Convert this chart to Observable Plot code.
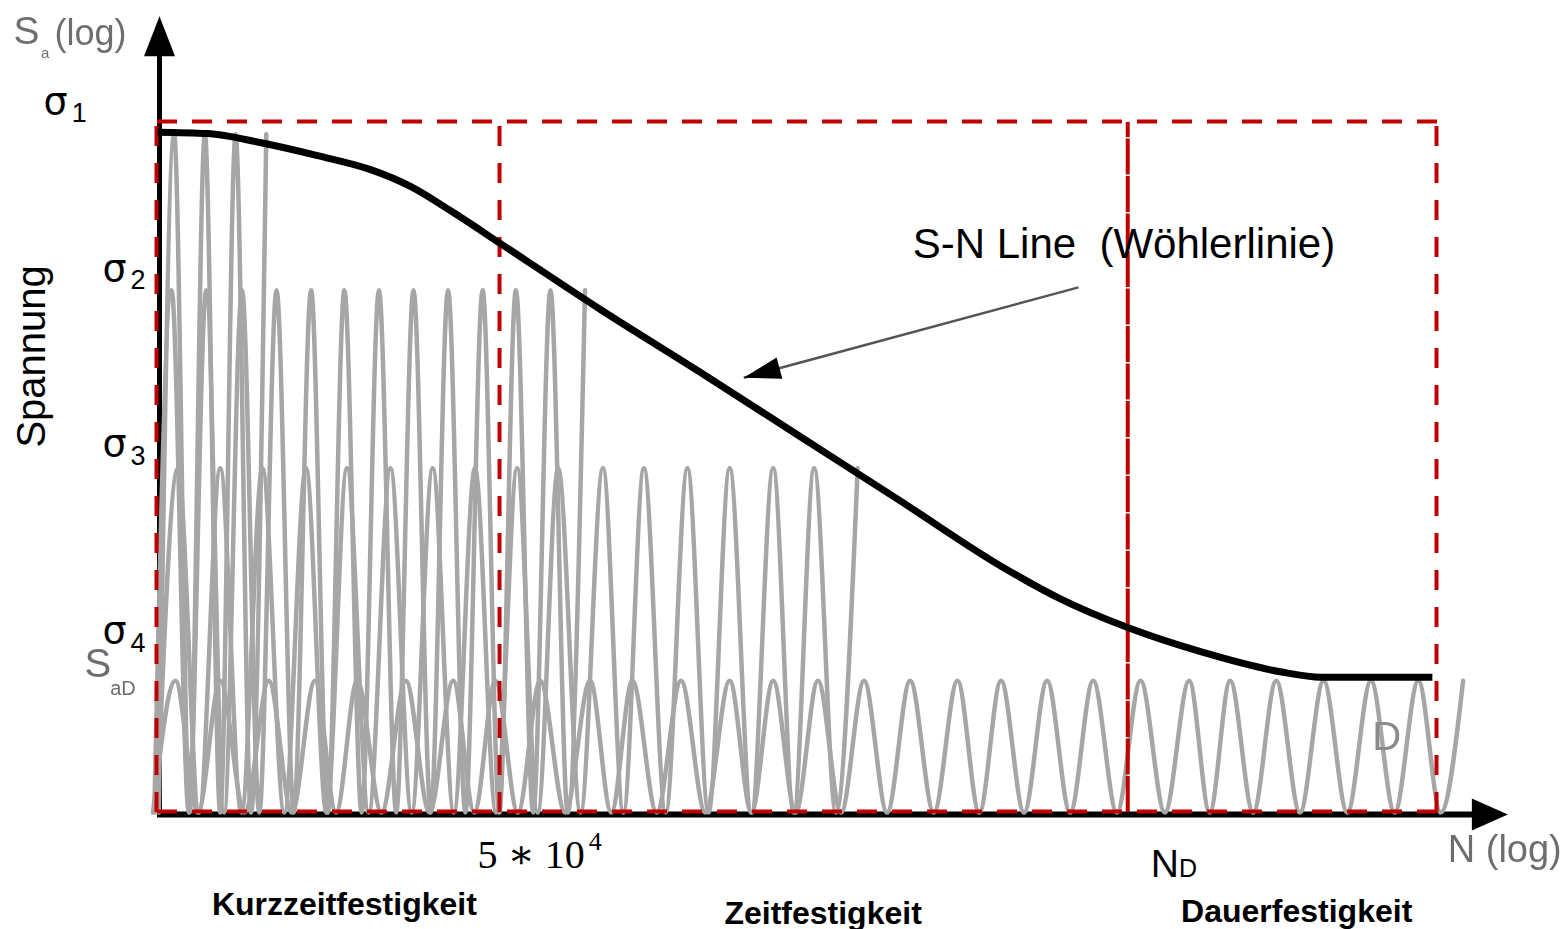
<!DOCTYPE html>
<html>
<head>
<meta charset="utf-8">
<script src="https://cdn.jsdelivr.net/npm/d3@7"></script>
<script src="https://cdn.jsdelivr.net/npm/@observablehq/plot@0.6"></script>
<style>
  body { margin: 0; background: #fff; }
  #chart svg { display: block; }
</style>
</head>
<body>
<div id="chart"></div>
<script>
// ---------------- DATA (schematic units: x = position on log N axis 0..100, y = stress 0..100) ----------------
const regionNames = ["Kurzzeitfestigkeit", "Zeitfestigkeit", "Dauerfestigkeit"];
const regionBounds = [0, 26.8, 75.8, 100];      // box edges; 26.8 = 5*10^4, 75.8 = N_D
const stressLevels = ["σ1", "σ2", "σ3", "σ4"];
const waveLevels = [98.3, 75.7, 49.9, 19.1];    // peak stress of each load cycle series
// peak positions of each load-cycle series
const wavePeaks1 = [1.3, 3.7, 6.1, 8.5];
const wavePeaks2 = [1.1, 3.8, 6.6, 9.3, 12.0, 14.6, 17.3, 20.0, 22.7, 25.4, 28.0, 30.7, 33.4];
const wavePeaks3 = [1.6, 4.9, 8.2, 11.6, 14.8, 18.2, 21.5, 24.8, 28.1, 31.3, 34.8, 38.0, 41.4, 44.7, 48.1, 51.3, 54.7];
const wavePeaks4 = [1.4, 4.9, 8.7, 12.3, 15.6, 19.4, 23.1, 26.4, 29.9, 33.8, 37.1, 40.9, 44.7, 48.1, 51.6, 55.2,
                    58.8, 62.5, 65.9, 69.5, 73.1, 76.8, 80.6, 83.8, 87.4, 91.1, 94.8, 98.5, 102.0];
// S-N (Wöhler) curve
const snX = [0, 3.9, 8.0, 12.5, 16.6, 19.8, 22.9, 27.0, 34.6, 42.4, 50.2, 58.0, 65.9, 70.5, 75.8, 81.5, 87.7, 90.9, 99.6];
const snY = [98.6, 98.4, 97.1, 95.2, 93.2, 90.7, 87.2, 82.2, 72.9, 63.8, 54.5, 45.2, 35.7, 31.0, 26.8, 23.3, 20.4, 19.6, 19.6];
// annotation arrow (from label to curve)
const arrowFrom = [71.95, 76.1];
const arrowTo = [45.8, 63.0];
// axis extents
const yAxisTop = 115.4;
const xAxisEnd = 105.5;

// ---------------- LAYOUT ----------------
const W = 1568, H = 929;
const mL = 157, mR = 131, mT = 122, mB = 117;
const xs = d3.scaleLinear([0, 100], [mL, W - mR]);
const ys = d3.scaleLinear([0, 100], [H - mB, mT]);

const sans = "Liberation Sans, Arial, Helvetica, sans-serif";
const serif = "Liberation Serif, DejaVu Serif, Times New Roman, serif";
const red = "#c00000";
const grey = "#a6a6a6";
const greyText = "#6e6e6e";

// build wave rows: troughs between peaks, peaks at level
const wavePeaks = [wavePeaks1, wavePeaks2, wavePeaks3, wavePeaks4];
const waveRows = [];
wavePeaks.forEach((peaks, i) => {
  waveRows.push({wave: stressLevels[i], x: peaks[0] - (peaks[1] - peaks[0]) / 2, y: 0});
  peaks.forEach((p, j) => {
    if (j > 0) waveRows.push({wave: stressLevels[i], x: (peaks[j - 1] + p) / 2, y: 0});
    waveRows.push({wave: stressLevels[i], x: p, y: waveLevels[i]});
  });
});
const snRows = snX.map((x, i) => ({x, y: snY[i]}));

// custom filled arrow-head symbol: tip at the dot position
function head(ux, uy, L, Wd) {
  const n = Math.hypot(ux, uy); ux /= n; uy /= n;
  const px = -uy, py = ux;
  return {
    draw(ctx) {
      ctx.moveTo(0, 0);
      ctx.lineTo(-ux * L + px * Wd / 2, -uy * L + py * Wd / 2);
      ctx.lineTo(-ux * L - px * Wd / 2, -uy * L - py * Wd / 2);
      ctx.closePath();
    }
  };
}
const annDir = [xs(arrowTo[0]) - xs(arrowFrom[0]), ys(arrowTo[1]) - ys(arrowFrom[1])];

// text annotations (data units, baseline-left unless noted)
const sigmaText = [
  {x: -8.9, y: 101.3, t: "σ"}, {x: -4.3, y: 77.1, t: "σ"},
  {x: -4.3, y: 51.6, t: "σ"}, {x: -4.3, y: 24.5, t: "σ"}
];
const sigmaSub = [
  {x: -6.7, y: 100.1, t: "1"}, {x: -2.1, y: 75.8, t: "2"},
  {x: -2.1, y: 50.4, t: "3"}, {x: -2.1, y: 23.3, t: "4"}
];
const regionLabels = [
  {x: 14.6, y: -14.9, t: regionNames[0]},
  {x: 52.0, y: -16.1, t: regionNames[1]},
  {x: 89.0, y: -15.9, t: regionNames[2]}
];

const chart = Plot.plot({
  width: W, height: H,
  marginLeft: mL, marginRight: mR, marginTop: mT, marginBottom: mB,
  x: {domain: [0, 100], axis: null},
  y: {domain: [0, 100], axis: null},
  style: {fontFamily: sans, background: "#fff", overflow: "visible"},
  marks: [
    // black axes
    Plot.ruleX([0], {y1: 0, y2: 110.4, stroke: "black", strokeWidth: 5, dx: 2}),
    Plot.ruleY([0], {x1: 0, x2: 103.0, stroke: "black", strokeWidth: 6, dy: 2}),
    // load cycles
    Plot.line(waveRows, {x: "x", y: "y", z: "wave", curve: "monotone-x", stroke: grey, strokeWidth: 4.5}),
    // red region boxes
    Plot.ruleY([0, 100], {x1: regionBounds[0], x2: regionBounds[3], stroke: red, strokeWidth: 4, strokeDasharray: "20,15", dy: -1}),
    Plot.ruleX([regionBounds[0], regionBounds[1], regionBounds[3]], {y1: 0, y2: 100, stroke: red, strokeWidth: 4, strokeDasharray: "20,17", dx: -1}),
    Plot.ruleX([regionBounds[2]], {y1: 0, y2: 100, stroke: red, strokeWidth: 4, strokeDasharray: "36,1.5"}),
    // S-N curve
    Plot.line(snRows, {x: "x", y: "y", curve: "monotone-x", stroke: "black", strokeWidth: 7, strokeLinecap: "butt"}),
    // annotation arrow
    Plot.link([0], {x1: arrowFrom[0], y1: arrowFrom[1], x2: arrowTo[0], y2: arrowTo[1], stroke: "#555", strokeWidth: 2.5}),
    Plot.dot([0], {x: arrowTo[0], y: arrowTo[1], r: 1, symbol: head(annDir[0], annDir[1], 37, 22), fill: "black", stroke: "none"}),
    // axis arrow heads
    Plot.dot([0], {x: 0, y: yAxisTop, dx: 2, r: 1, symbol: head(0, -1, 40, 31), fill: "black", stroke: "none"}),
    Plot.dot([0], {x: xAxisEnd, y: 0, dy: 2, r: 1, symbol: head(1, 0, 36, 32), fill: "black", stroke: "none"}),
    // y-axis title
    Plot.text([0], {x: -11.25, y: 111.4, text: () => "S", fontSize: 39, fill: greyText, textAnchor: "start", lineAnchor: "bottom"}),
    Plot.text([0], {x: -9.1, y: 109.4, text: () => "a", fontSize: 15, fill: greyText, textAnchor: "start", lineAnchor: "bottom"}),
    Plot.text([0], {x: -8.05, y: 111.2, text: () => "(log)", fontSize: 36, fill: greyText, textAnchor: "start", lineAnchor: "bottom"}),
    Plot.text([0], {x: -9.77, y: 66.1, text: () => "Spannung", fontSize: 40, fill: "black", rotate: -90, textAnchor: "middle", lineAnchor: "middle"}),
    // stress level labels
    Plot.text(sigmaText, {x: "x", y: "y", text: "t", fontSize: 38, fontFamily: "DejaVu Sans, sans-serif", fill: "black", textAnchor: "start", lineAnchor: "bottom"}),
    Plot.text(sigmaSub, {x: "x", y: "y", text: "t", fontSize: 27, fill: "black", textAnchor: "start", lineAnchor: "bottom"}),
    Plot.text([0], {x: -5.7, y: 19.7, text: () => "S", fontSize: 40, fill: greyText, textAnchor: "start", lineAnchor: "bottom"}),
    Plot.text([0], {x: -3.7, y: 17.1, text: () => "aD", fontSize: 20, fill: greyText, textAnchor: "start", lineAnchor: "bottom"}),
    Plot.text([0], {x: 94.9, y: 9.0, text: () => "D", fontSize: 40, fill: "#8a8a8a", textAnchor: "start", lineAnchor: "bottom"}),
    // curve label
    Plot.text([0], {x: 59.0, y: 80.3, text: () => "S-N Line\u00a0 (Wöhlerlinie)", fontSize: 42, fill: "black", textAnchor: "start", lineAnchor: "bottom"}),
    // x-axis labels
    Plot.text([0], {x: 25.0, y: -8.1, text: () => "5 ∗ 10", fontSize: 40, fontFamily: serif, fill: "black", textAnchor: "start", lineAnchor: "bottom"}),
    Plot.text([0], {x: 33.7, y: -5.5, text: () => "4", fontSize: 26, fontFamily: serif, fill: "black", textAnchor: "start", lineAnchor: "bottom"}),
    Plot.text([0], {x: 77.6, y: -9.3, text: () => "N", fontSize: 39, fill: "black", textAnchor: "start", lineAnchor: "bottom"}),
    Plot.text([0], {x: 79.8, y: -9.3, text: () => "D", fontSize: 25, fill: "black", textAnchor: "start", lineAnchor: "bottom"}),
    Plot.text([0], {x: 100.8, y: -7.2, text: () => "N (log)", fontSize: 38, fill: greyText, textAnchor: "start", lineAnchor: "bottom"}),
    // region names
    Plot.text(regionLabels, {x: "x", y: "y", text: "t", fontSize: 32, fontWeight: "bold", fill: "black", textAnchor: "middle", lineAnchor: "bottom"})
  ]
});
document.getElementById("chart").appendChild(chart);
// soften the greyed (raster-like) labels
d3.select(chart).selectAll(`g[fill="${greyText}"], g[fill="#8a8a8a"]`).style("filter", "blur(0.7px)");
</script>
</body>
</html>
